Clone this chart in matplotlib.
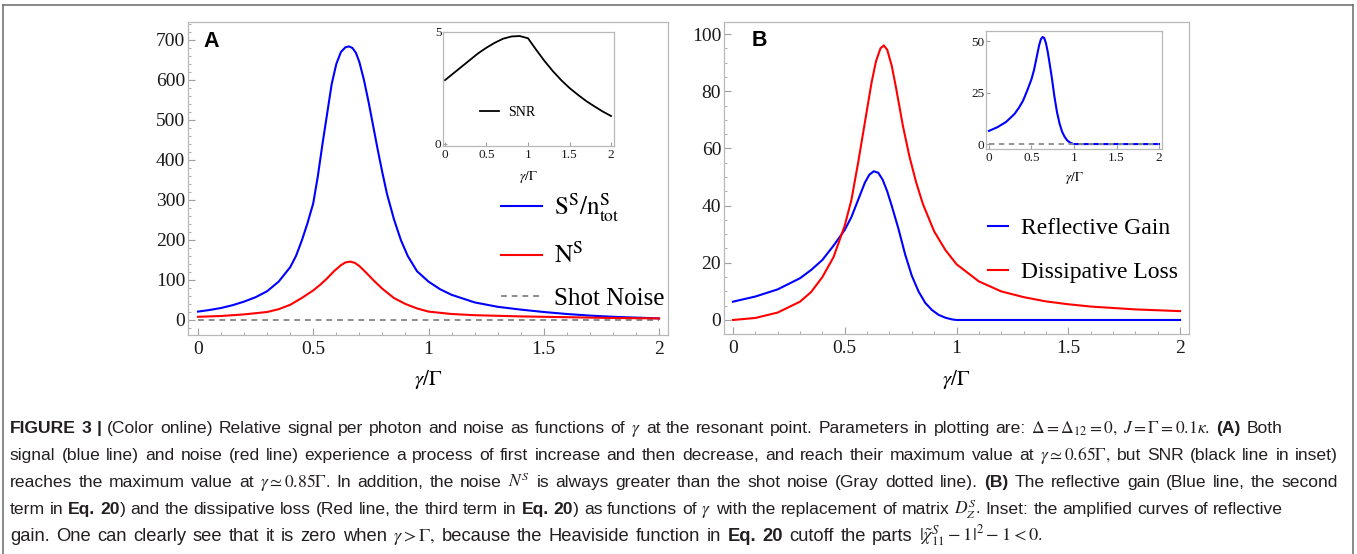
import re
import matplotlib
matplotlib.use('Agg')
import matplotlib.pyplot as plt
from matplotlib.ticker import MultipleLocator
from matplotlib.lines import Line2D
from matplotlib.transforms import IdentityTransform

plt.rcParams['font.family'] = ['Liberation Serif', 'DejaVu Serif']
plt.rcParams['mathtext.fontset'] = 'stix'

# ---- data ----
# (A) signal per photon S^S/n_tot^S
gam_sig = [0, 0.05, 0.1, 0.15, 0.2, 0.25, 0.3, 0.35, 0.4, 0.425, 0.45, 0.475, 0.5, 0.52, 0.54,
           0.56, 0.58, 0.6, 0.62, 0.64, 0.655, 0.67, 0.685, 0.7, 0.72, 0.74, 0.76, 0.78, 0.8,
           0.82, 0.85, 0.88, 0.91, 0.95, 1.0, 1.05, 1.1, 1.2, 1.3, 1.4, 1.5, 1.6, 1.7, 1.8,
           1.9, 2.0]
signal = [21, 25, 30, 37, 46, 57, 72, 96, 132, 160, 198, 242, 292, 360, 440,
          515, 590, 640, 670, 682, 684, 680, 668, 645, 600, 545, 485, 425, 368,
          315, 252, 200, 160, 122, 96, 77, 63, 44, 33, 26, 20, 15, 11, 8,
          6, 4]
# (A) noise N^S
gam_noise = [0, 0.1, 0.2, 0.3, 0.35, 0.4, 0.45, 0.5, 0.53, 0.56, 0.59, 0.62, 0.64, 0.66, 0.68,
             0.7, 0.73, 0.76, 0.8, 0.85, 0.9, 0.95, 1.0, 1.1, 1.2, 1.4, 1.6, 1.8, 2.0]
noise = [8, 10, 14, 20, 27, 38, 55, 74, 88, 104, 122, 137, 144, 146, 143,
         135, 118, 100, 78, 55, 40, 29, 21, 15, 12, 9, 7, 5, 4]
gam_shot = [0, 2]
shot = [1, 1]
# (A) inset SNR
gam_snr = [0, 0.1, 0.2, 0.3, 0.4, 0.5, 0.6, 0.7, 0.8, 0.9, 1.0, 1.1, 1.2, 1.3, 1.4, 1.5,
           1.6, 1.7, 1.8, 1.9, 2.0]
snr = [2.85, 3.15, 3.45, 3.75, 4.05, 4.3, 4.52, 4.7, 4.8, 4.82, 4.72, 4.2, 3.7, 3.25, 2.85, 2.5,
       2.2, 1.92, 1.68, 1.45, 1.25]
# (B) reflective gain
gam_gain = [0, 0.1, 0.2, 0.3, 0.35, 0.4, 0.45, 0.5, 0.53, 0.56, 0.59, 0.61, 0.63, 0.65, 0.67,
            0.69, 0.71, 0.74, 0.77, 0.8, 0.83, 0.86, 0.89, 0.92, 0.95, 0.98, 1.0, 2.0]
gain = [6.4, 8.2, 10.7, 14.6, 17.5, 21, 26, 31.5, 36, 42, 48, 50.8, 52, 51.5, 49,
        45, 40, 32, 23, 15.5, 10, 6, 3.5, 1.8, 0.8, 0.2, 0, 0]
# (B) dissipative loss
gam_loss = [0, 0.1, 0.2, 0.3, 0.35, 0.4, 0.45, 0.5, 0.53, 0.56, 0.59, 0.62, 0.64, 0.66, 0.675,
            0.69, 0.71, 0.73, 0.76, 0.79, 0.82, 0.85, 0.9, 0.95, 1.0, 1.1, 1.2, 1.3, 1.4, 1.5,
            1.6, 1.8, 2.0]
loss = [0, 0.7, 2.6, 6.4, 9.8, 15, 22, 33, 42, 55, 69, 83, 90.5, 95, 96,
        94.5, 89, 81, 68, 57, 48, 40.5, 31, 24.5, 19.5, 13.5, 10, 8, 6.5, 5.5,
        4.7, 3.7, 3.1]
gam_zero = [0, 2]
zero = [0, 0]

x_ticks = [0, 0.5, 1, 1.5, 2]
x_ticklabels = ['0', '0.5', '1', '1.5', '2']

caption = [
    r"*FIGURE 3 |* (Color online) Relative signal per photon and noise as functions of $\gamma$ at the resonant point. Parameters in plotting are: $\Delta=\Delta_{12}=0,$ $J=\Gamma=0.1\kappa.$ *(A)* Both",
    r"signal (blue line) and noise (red line) experience a process of first increase and then decrease, and reach their maximum value at $\gamma\simeq0.65\Gamma,$ but SNR (black line in inset)",
    r"reaches the maximum value at $\gamma\simeq0.85\Gamma.$ In addition, the noise $N^S$ is always greater than the shot noise (Gray dotted line). *(B)* The reflective gain (Blue line, the second",
    r"term in *Eq. 20*) and the dissipative loss (Red line, the third term in *Eq. 20*) as functions of $\gamma$ with the replacement of matrix $D_Z^S.$ Inset: the amplified curves of reflective",
    r"gain. One can clearly see that it is zero when $\gamma>\Gamma,$ because the Heaviside function in *Eq. 20* cutoff the parts $|\tilde{\chi}_{11}^S-1|^2-1<0.$",
]
caption_ends = [1282, 1338, 1338, 1283, 1043]

W, H = 1357, 554
BLUE, RED, GRAY = '#0000ff', '#ff0000', '#8c8c8c'
SERIF = ['Liberation Serif', 'DejaVu Serif']

fig = plt.figure(figsize=(W / 100, H / 100), dpi=100)


def add_axes_px(l, t, r, b):
    return fig.add_axes([l / W, 1 - b / H, (r - l) / W, (b - t) / H])


def frame(ax, size, pad_x, pad_y):
    for s in ax.spines.values():
        s.set_color('#b8b8b8')
        s.set_linewidth(0.9)
    ax.tick_params(which='both', direction='in', top=False, right=False,
                   color='#a0a0a0', labelcolor='#1a1a1a', labelsize=size)
    ax.tick_params(axis='x', pad=pad_x)
    ax.tick_params(axis='y', pad=pad_y)
    ax.tick_params(which='major', length=5, width=0.8)
    ax.tick_params(which='minor', length=2.5, width=0.6)
    ax.set_xticks(x_ticks)
    ax.set_xticklabels(x_ticklabels)
    for lbl in ax.get_xticklabels() + ax.get_yticklabels():
        lbl.set_family(SERIF)


# ---- panel A ----
axA = add_axes_px(188, 22, 668, 335)
axA.plot(gam_shot, shot, color=GRAY, lw=1.4, ls=(0, (3, 2.5)), label='Shot Noise')
axA.plot(gam_sig, signal, color=BLUE, lw=1.5, label=r'$\mathrm{S^S/n^S_{tot}}$')
axA.plot(gam_noise, noise, color=RED, lw=1.5, label=r'$\mathrm{N^S}$')
axA.set_xlim(-0.0434, 2.039)
axA.set_ylim(-37.5, 745)
axA.set_yticks(range(0, 701, 100))
axA.yaxis.set_minor_locator(MultipleLocator(20))
axA.xaxis.set_minor_locator(MultipleLocator(0.1))
frame(axA, 14, 4, 2)
axA.set_xlabel(r'$\gamma/\Gamma$', fontsize=15)
axA.xaxis.set_label_coords(0.5, -0.105)
h, l = axA.get_legend_handles_labels()
axA.legend([h[1], h[2], h[0]], [l[1], l[2], l[0]], loc='upper left', bbox_to_anchor=(0.625, 0.5),
           frameon=False, fontsize=18, borderpad=0, handlelength=1.64, handletextpad=0.52,
           labelspacing=0.75)
fig.text(203 / W, 1 - 47 / H, 'A', family=['Liberation Sans', 'DejaVu Sans'], weight='bold',
         fontsize=15.5, va='baseline')

# inset A
inA = add_axes_px(443, 32, 614, 146)
inA.plot(gam_snr, snr, color='black', lw=1.3, label='SNR')
inA.set_xlim(-0.024, 2.036)
inA.set_ylim(-0.09, 5.0)
inA.set_yticks([0, 5])
frame(inA, 9.5, 2, 1)
inA.tick_params(which='major', length=3)
inA.set_xlabel(r'$\gamma/\Gamma$', fontsize=9.5)
inA.xaxis.set_label_coords(0.5, -0.2)
inA.legend(loc='upper left', bbox_to_anchor=(0.175, 0.415), frameon=False, fontsize=10,
           borderpad=0, handlelength=1.36, handletextpad=0.64)

# ---- panel B ----
axB = add_axes_px(724, 22, 1189, 334)
axB.plot(gam_gain, gain, color=BLUE, lw=1.5, label='Reflective Gain')
axB.plot(gam_loss, loss, color=RED, lw=1.5, label='Dissipative Loss')
axB.set_xlim(-0.040, 2.040)
axB.set_ylim(-4.9, 104.2)
axB.set_yticks(range(0, 101, 20))
axB.yaxis.set_minor_locator(MultipleLocator(5))
axB.xaxis.set_minor_locator(MultipleLocator(0.1))
frame(axB, 14, 4, 2)
axB.set_xlabel(r'$\gamma/\Gamma$', fontsize=15)
axB.xaxis.set_label_coords(0.5, -0.108)
axB.legend(loc='upper left', bbox_to_anchor=(0.542, 0.41), frameon=False, fontsize=17,
           borderpad=0, handlelength=0.85, handletextpad=0.55, labelspacing=0.95)
fig.text(752 / W, 1 - 46 / H, 'B', family=['Liberation Sans', 'DejaVu Sans'], weight='bold',
         fontsize=15.5, va='baseline')

# inset B
inB = add_axes_px(986, 31, 1162, 149)
inB.plot(gam_gain, gain, color=BLUE, lw=1.5)
inB.plot(gam_zero, zero, color=GRAY, lw=1.3, ls=(0, (3, 2.5)))
inB.set_xlim(-0.035, 2.035)
inB.set_ylim(-2.4, 54.9)
inB.set_yticks([0, 25, 50])
frame(inB, 9.5, 2, 1)
inB.tick_params(which='major', length=3)
inB.set_xlabel(r'$\gamma/\Gamma$', fontsize=9.5)
inB.xaxis.set_label_coords(0.5, -0.175)

# ---- outer border ----
for xs, ys in [([2.7, 2.7], [554, 4.5]), ([2.7, 1353], [4.5, 4.5]), ([1353, 1353], [4.5, 554])]:
    fig.add_artist(Line2D([x / W for x in xs], [1 - y / H for y in ys], color='#6a6a6a', lw=1.1,
                          transform=fig.transFigure))


# ---- caption ----
def parse(line):
    atoms, pending = [], False
    for run in re.split(r'(\*[^*]+\*|\$[^$]+\$)', line):
        if not run:
            continue
        if run.startswith('$'):
            atoms.append((run, 'm', pending))
            pending = False
            continue
        style = 'r'
        if run.startswith('*'):
            run, style = run[1:-1], 'b'
        for i, p in enumerate(run.split(' ')):
            if i > 0:
                pending = True
            if p:
                atoms.append((p, style, pending))
                pending = False
    return atoms


renderer = fig.canvas.get_renderer()
cap_family = ['Liberation Sans', 'DejaVu Sans']


def make_atoms(atoms, size):
    arts, widths = [], []
    for txt, st, sp in atoms:
        t = fig.text(0, 0, txt, transform=IdentityTransform(), va='baseline', ha='left',
                     fontsize=size, family=cap_family, color='#231f20',
                     weight='bold' if st == 'b' else 'normal')
        arts.append(t)
        widths.append(t.get_window_extent(renderer).width)
    return arts, widths


def fit_size(atoms, width, size):
    # font size at which the words with normal spaces fill the given width
    for _ in range(3):
        arts, widths = make_atoms(atoms, size)
        for t in arts:
            t.remove()
        nsp = sum(1 for a in atoms if a[2])
        nat = sum(widths) + nsp * 0.27 * size * 100 / 72
        size = size * width / nat * 0.997
    return size


def caption_line(atoms, y, x0, x1, size):
    arts, widths = make_atoms(atoms, size)
    nsp = sum(1 for a in atoms if a[2])
    gap = (x1 - x0 - sum(widths)) / nsp
    x = x0
    for t, w, a in zip(arts, widths, atoms):
        if a[2]:
            x += gap
        t.set_position((x, H - y))
        x += w


parsed = [parse(line) for line in caption]
sizes = [fit_size(a, end - 10, 12) for a, end in zip(parsed, caption_ends)]
body = min(sizes[:4])
sizes = [body] * 4 + [min(sizes[4], body * 1.05)]
for i, (atoms, end) in enumerate(zip(parsed, caption_ends)):
    caption_line(atoms, 433 + 27 * i, 10, end, sizes[i])

fig.savefig('out.png', dpi=100)
